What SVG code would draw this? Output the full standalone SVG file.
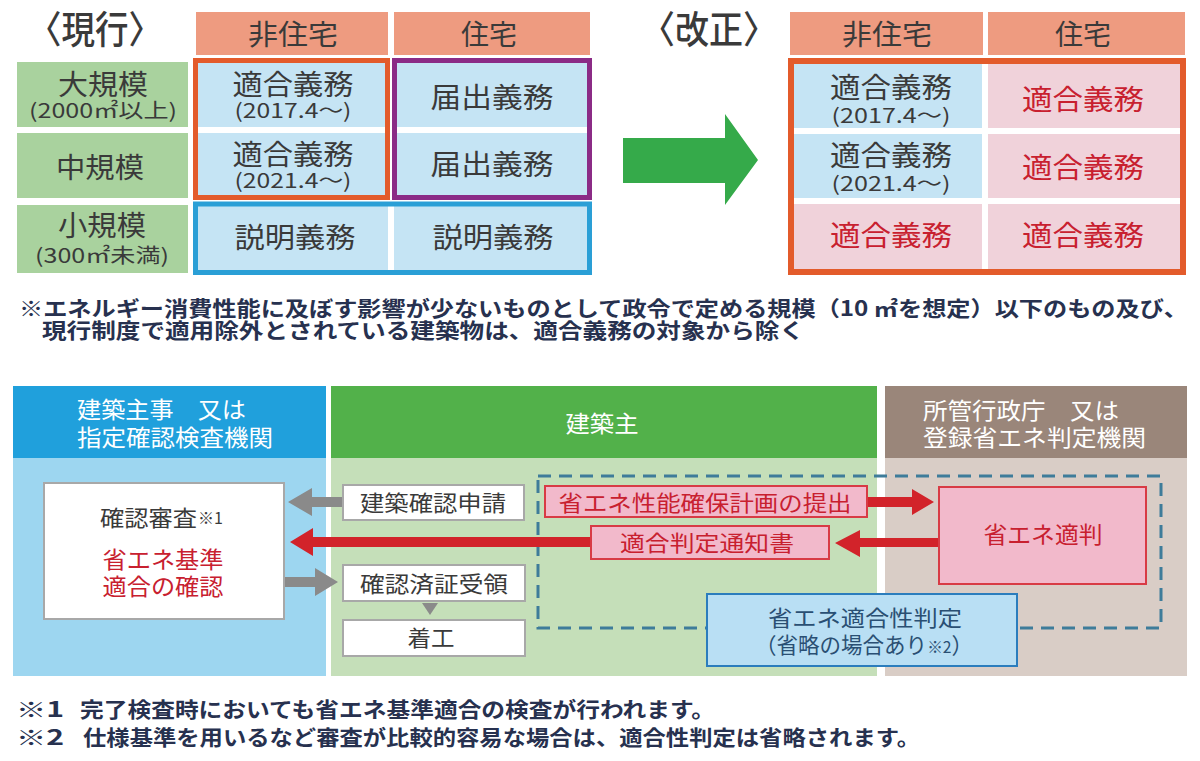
<svg xmlns="http://www.w3.org/2000/svg" width="1200" height="761" viewBox="0 0 1200 761">
<style>
text{font-family:"Noto Sans CJK JP","Noto Sans",sans-serif;}
.dk{fill:#3a3a3a;}
.rd{fill:#c8202f;}
.wh{fill:#ffffff;}
.nv{fill:#27314f;font-weight:bold;}
.hdr{fill:#ee9b80;}
.lbl{fill:#a9d29e;}
.cb{fill:#c5e4f4;}
.cp{fill:#f0d2da;}
.wbox{fill:#ffffff;stroke:#a8a8a8;stroke-width:2;}
.pbox{fill:#f2b9cb;stroke:#d83b45;stroke-width:2;}
.garr{fill:#8a8a8a;}
.rarr{fill:#d2232a;}
</style>
<rect width="1200" height="761" fill="#ffffff"/>

<!-- ===== Current table ===== -->
<g id="title-current"><text x="28" y="43" font-size="38" class="dk" font-weight="500" textLength="134" lengthAdjust="spacingAndGlyphs">〈現行〉</text></g>
<g id="cur-head-nonres"><rect x="196" y="12" width="192" height="43" class="hdr"/><text x="293" y="45" font-size="28" text-anchor="middle" class="dk" textLength="90" lengthAdjust="spacingAndGlyphs">非住宅</text></g>
<g id="cur-head-res"><rect x="394" y="12" width="196" height="43" class="hdr"/><text x="489" y="45" font-size="28" text-anchor="middle" class="dk">住宅</text></g>
<g id="cur-row-large"><rect x="17" y="62" width="171" height="65" class="lbl"/><text x="103" y="95" font-size="28" text-anchor="middle" class="dk" textLength="90" lengthAdjust="spacingAndGlyphs">大規模</text><text x="103" y="118" font-size="20" text-anchor="middle" class="dk" textLength="148" lengthAdjust="spacingAndGlyphs">(2000㎡以上)</text></g>
<g id="cur-row-mid"><rect x="17" y="133" width="171" height="65" class="lbl"/><text x="100" y="178" font-size="28" text-anchor="middle" class="dk" textLength="88" lengthAdjust="spacingAndGlyphs">中規模</text></g>
<g id="cur-row-small"><rect x="17" y="205" width="171" height="68" class="lbl"/><text x="102" y="236" font-size="28" text-anchor="middle" class="dk" textLength="88" lengthAdjust="spacingAndGlyphs">小規模</text><text x="102" y="263" font-size="20" text-anchor="middle" class="dk" textLength="134" lengthAdjust="spacingAndGlyphs">(300㎡未満)</text></g>

<g id="cur-c11"><rect x="196" y="61" width="192" height="66" class="cb"/><text x="293" y="95" font-size="28" text-anchor="middle" class="dk" textLength="121" lengthAdjust="spacingAndGlyphs">適合義務</text><text x="293" y="118" font-size="20" text-anchor="middle" class="dk" textLength="117" lengthAdjust="spacingAndGlyphs">(2017.4～)</text></g>
<g id="cur-c21"><rect x="196" y="133" width="192" height="64" class="cb"/><text x="293" y="165" font-size="28" text-anchor="middle" class="dk" textLength="121" lengthAdjust="spacingAndGlyphs">適合義務</text><text x="293" y="188" font-size="20" text-anchor="middle" class="dk" textLength="117" lengthAdjust="spacingAndGlyphs">(2021.4～)</text></g>
<g id="cur-c12"><rect x="394" y="61" width="196" height="66" class="cb"/><text x="492" y="108" font-size="28" text-anchor="middle" class="dk" textLength="123" lengthAdjust="spacingAndGlyphs">届出義務</text></g>
<g id="cur-c22"><rect x="394" y="133" width="196" height="64" class="cb"/><text x="492" y="175" font-size="28" text-anchor="middle" class="dk" textLength="123" lengthAdjust="spacingAndGlyphs">届出義務</text></g>
<g id="cur-c31"><rect x="196" y="205" width="192" height="67" class="cb"/><text x="295" y="248" font-size="28" text-anchor="middle" class="dk" textLength="121" lengthAdjust="spacingAndGlyphs">説明義務</text></g>
<g id="cur-c32"><rect x="394" y="205" width="196" height="67" class="cb"/><text x="493" y="248" font-size="28" text-anchor="middle" class="dk" textLength="121" lengthAdjust="spacingAndGlyphs">説明義務</text></g>
<g id="cur-frames" fill="none" stroke-width="5">
<rect x="195.5" y="60.5" width="192" height="137" stroke="#e35b2b"/>
<rect x="394.5" y="60.5" width="195" height="137" stroke="#8b2b86"/>
<rect x="195.5" y="204" width="394" height="68.5" stroke="#2a9fd6"/>
</g>

<!-- ===== Arrow ===== -->
<g id="big-arrow"><polygon points="623,138 725,138 725,114 758,160 725,205 725,183 623,183" fill="#35aa4a"/></g>

<!-- ===== Revised table ===== -->
<g id="title-revised"><text x="641" y="43" font-size="38" class="dk" font-weight="500" textLength="136" lengthAdjust="spacingAndGlyphs">〈改正〉</text></g>
<g id="rev-head-nonres"><rect x="790" y="12" width="193" height="43" class="hdr"/><text x="887" y="45" font-size="28" text-anchor="middle" class="dk" textLength="90" lengthAdjust="spacingAndGlyphs">非住宅</text></g>
<g id="rev-head-res"><rect x="988" y="12" width="197" height="43" class="hdr"/><text x="1083" y="45" font-size="28" text-anchor="middle" class="dk">住宅</text></g>
<g id="rev-c11"><rect x="794" y="64" width="188" height="64" class="cb"/><text x="891" y="98" font-size="28" text-anchor="middle" class="dk" textLength="122" lengthAdjust="spacingAndGlyphs">適合義務</text><text x="891" y="123" font-size="20" text-anchor="middle" class="dk" textLength="119" lengthAdjust="spacingAndGlyphs">(2017.4～)</text></g>
<g id="rev-c21"><rect x="794" y="134" width="188" height="64" class="cb"/><text x="891" y="166" font-size="28" text-anchor="middle" class="dk" textLength="122" lengthAdjust="spacingAndGlyphs">適合義務</text><text x="891" y="191" font-size="20" text-anchor="middle" class="dk" textLength="119" lengthAdjust="spacingAndGlyphs">(2021.4～)</text></g>
<g id="rev-c12"><rect x="988" y="64" width="192" height="64" class="cp"/><text x="1083" y="110" font-size="28" text-anchor="middle" class="rd" textLength="122" lengthAdjust="spacingAndGlyphs">適合義務</text></g>
<g id="rev-c22"><rect x="988" y="134" width="192" height="64" class="cp"/><text x="1083" y="178" font-size="28" text-anchor="middle" class="rd" textLength="122" lengthAdjust="spacingAndGlyphs">適合義務</text></g>
<g id="rev-c31"><rect x="794" y="204" width="188" height="65" class="cp"/><text x="891" y="246" font-size="28" text-anchor="middle" class="rd" textLength="122" lengthAdjust="spacingAndGlyphs">適合義務</text></g>
<g id="rev-c32"><rect x="988" y="204" width="192" height="65" class="cp"/><text x="1083" y="246" font-size="28" text-anchor="middle" class="rd" textLength="122" lengthAdjust="spacingAndGlyphs">適合義務</text></g>
<g id="rev-frame"><rect x="791" y="61" width="392" height="211" fill="none" stroke="#e35b2b" stroke-width="6"/></g>

<!-- ===== Note ===== -->
<g id="note">
<text x="19" y="316" font-size="21" class="nv" textLength="1169" lengthAdjust="spacingAndGlyphs">※エネルギー消費性能に及ぼす影響が少ないものとして政令で定める規模（10 ㎡を想定）以下のもの及び、</text>
<text x="42" y="338" font-size="21" class="nv" textLength="762" lengthAdjust="spacingAndGlyphs">現行制度で適用除外とされている建築物は、適合義務の対象から除く</text>
</g>

<!-- ===== Flow: columns ===== -->
<g id="col-authority">
<rect x="13" y="386" width="313" height="72" fill="#20a0dc"/>
<rect x="13" y="458" width="313" height="218" fill="#9dd6f0"/>
<text x="77" y="418" font-size="23" class="wh" textLength="169" lengthAdjust="spacingAndGlyphs">建築主事　又は</text>
<text x="77" y="446" font-size="23" class="wh" textLength="196" lengthAdjust="spacingAndGlyphs">指定確認検査機関</text>
</g>
<g id="col-owner">
<rect x="331" y="386" width="546" height="72" fill="#52b14a"/>
<rect x="331" y="458" width="546" height="218" fill="#c5dfb9"/>
<text x="602" y="432" font-size="23" class="wh" text-anchor="middle" textLength="73" lengthAdjust="spacingAndGlyphs">建築主</text>
</g>
<g id="col-admin">
<rect x="885" y="386" width="302" height="72" fill="#9a867a"/>
<rect x="885" y="458" width="302" height="218" fill="#d9cdc6"/>
<text x="923" y="419" font-size="23" class="wh" textLength="196" lengthAdjust="spacingAndGlyphs">所管行政庁　又は</text>
<text x="923" y="446" font-size="23" class="wh" textLength="223" lengthAdjust="spacingAndGlyphs">登録省エネ判定機関</text>
</g>

<g id="dashed-scope"><rect x="538" y="476" width="623" height="152" fill="none" stroke="#3e7c9a" stroke-width="3" stroke-dasharray="13,8"/></g>

<!-- ===== Connectors ===== -->
<g id="connectors">
<polygon class="garr" points="342,497 312,497 312,488 288,502 312,516 312,507 342,507"/>
<polygon class="garr" points="284,577 315,577 315,568 338,582 315,596 315,587 284,587"/>
<polygon class="garr" points="422,603 438,603 430,615"/>
<polygon class="rarr" points="867,497 912,497 912,489 934,502 912,515 912,507 867,507"/>
<polygon class="rarr" points="939,538 860,538 860,530 835,543 860,557 860,547 939,547"/>
<polygon class="rarr" points="592,537 313,537 313,528 290,542 313,556 313,547 592,547"/>
</g>

<!-- ===== Nodes ===== -->
<g id="node-review">
<rect x="44" y="483" width="240" height="136" class="wbox"/>
<text x="100" y="526" font-size="22" class="dk" fill="#222" textLength="97" lengthAdjust="spacingAndGlyphs">確認審査</text>
<text x="198" y="524" font-size="16" class="dk">※1</text>
<text x="163" y="568" font-size="23" class="rd" text-anchor="middle" textLength="121" lengthAdjust="spacingAndGlyphs">省エネ基準</text>
<text x="163" y="595" font-size="23" class="rd" text-anchor="middle" textLength="121" lengthAdjust="spacingAndGlyphs">適合の確認</text>
</g>
<g id="node-apply"><rect x="343" y="485" width="181" height="35" class="wbox"/><text x="433" y="511" font-size="22" class="dk" text-anchor="middle" textLength="146" lengthAdjust="spacingAndGlyphs">建築確認申請</text></g>
<g id="node-receive"><rect x="343" y="565" width="182" height="36" class="wbox"/><text x="434" y="592" font-size="22" class="dk" text-anchor="middle" textLength="148" lengthAdjust="spacingAndGlyphs">確認済証受領</text></g>
<g id="node-start"><rect x="343" y="620" width="182" height="36" class="wbox"/><text x="431" y="646" font-size="22" class="dk" text-anchor="middle" textLength="47" lengthAdjust="spacingAndGlyphs">着工</text></g>
<g id="node-submit"><rect x="545" y="486" width="322" height="31" class="pbox"/><text x="705" y="511" font-size="22" class="rd" text-anchor="middle" textLength="293" lengthAdjust="spacingAndGlyphs">省エネ性能確保計画の提出</text></g>
<g id="node-notice"><rect x="591" y="526" width="238" height="33" class="pbox"/><text x="707" y="551" font-size="22" class="rd" text-anchor="middle" textLength="174" lengthAdjust="spacingAndGlyphs">適合判定通知書</text></g>
<g id="node-judge"><rect x="939" y="487" width="207" height="97" class="pbox"/><text x="1043" y="543" font-size="23" class="rd" text-anchor="middle" textLength="119" lengthAdjust="spacingAndGlyphs">省エネ適判</text></g>
<g id="node-conformity"><rect x="707" y="594" width="310" height="72" fill="#b9dff4" stroke="#2b7dbd" stroke-width="2"/>
<text x="865" y="626" font-size="22" text-anchor="middle" fill="#2a4f73" textLength="194" lengthAdjust="spacingAndGlyphs">省エネ適合性判定</text>
<text x="864" y="653" font-size="22" text-anchor="middle" fill="#2a4f73" textLength="218" lengthAdjust="spacingAndGlyphs">（省略の場合あり<tspan font-size="16">※2</tspan>）</text>
</g>

<!-- ===== Footnotes ===== -->
<g id="footnotes">
<text x="16" y="717" font-size="21" class="nv" textLength="48" lengthAdjust="spacingAndGlyphs">※1</text>
<text x="80" y="717" font-size="21" class="nv" textLength="635" lengthAdjust="spacingAndGlyphs">完了検査時においても省エネ基準適合の検査が行われます。</text>
<text x="16" y="745" font-size="21" class="nv" textLength="48" lengthAdjust="spacingAndGlyphs">※2</text>
<text x="83" y="745" font-size="21" class="nv" textLength="837" lengthAdjust="spacingAndGlyphs">仕様基準を用いるなど審査が比較的容易な場合は、適合性判定は省略されます。</text>
</g>
</svg>
